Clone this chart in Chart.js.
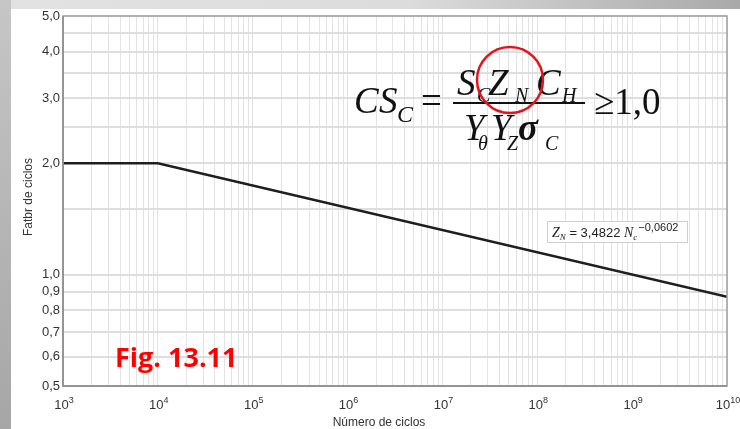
<!DOCTYPE html>
<html>
<head>
<meta charset="utf-8">
<script src="https://cdn.jsdelivr.net/npm/chart.js@4.4.1/dist/chart.umd.min.js"></script>
<style>
  html, body { margin: 0; padding: 0; background: #fff; }
  canvas { display: block; }
</style>
</head>
<body>
<canvas id="fatigue" width="740" height="429"></canvas>
<script>
/* --- Curve data: life factor vs. number of cycles --- */
const cycles = [1e3, 1e4, 1e10];
const factor = [2.0, 2.0, 0.871];

/* --- Axis ticks --- */
const yGridValues = [0.5, 0.6, 0.7, 0.8, 0.9, 1.0, 1.5, 2.0, 2.5, 3.0, 3.5, 4.0, 4.5, 5.0];
const yTickLabels = ['0,5', '0,6', '0,7', '0,8', '0,9', '1,0', '', '2,0', '', '3,0', '', '4,0', '', '5,0'];
const xExponents = [3, 4, 5, 6, 7, 8, 9, 10];

const SANS = "'Liberation Sans', Arial, sans-serif";
const SERIF = "'Liberation Serif', 'Times New Roman', serif";

// log grid: every 1..9 multiple inside each decade
const xGridValues = [];
xExponents.forEach(e => {
  if (e === xExponents[xExponents.length - 1]) { xGridValues.push(Math.pow(10, e)); return; }
  for (let m = 1; m <= 9; m++) xGridValues.push(m * Math.pow(10, e));
});

/* --- Helpers for rich text on the canvas --- */
function put(ctx, text, x, y, font, color) {
  ctx.font = font;
  ctx.fillStyle = color || '#111';
  ctx.fillText(text, x, y);
  return x + ctx.measureText(text).width;
}

/* --- Page frame, axis text, formula and notes --- */
const overlay = {
  id: 'overlay',
  beforeDraw(chart) {
    const ctx = chart.ctx;
    const W = chart.width, H = chart.height;
    ctx.save();
    ctx.fillStyle = '#fff';
    ctx.fillRect(0, 0, W, H);
    let g = ctx.createLinearGradient(0, 0, W, 0);
    g.addColorStop(0, '#e2e2e2');
    g.addColorStop(0.55, '#dcdcdc');
    g.addColorStop(1, '#a9a9a9');
    ctx.fillStyle = g;
    ctx.fillRect(0, 0, W, 9);
    g = ctx.createLinearGradient(0, 0, 0, H);
    g.addColorStop(0, '#c6c6c6');
    g.addColorStop(1, '#a6a6a6');
    ctx.fillStyle = g;
    ctx.fillRect(0, 0, 11, H);
    ctx.restore();
  },
  afterDraw(chart) {
    const ctx = chart.ctx;
    const a = chart.chartArea;
    const xs = chart.scales.x;
    ctx.save();

    // plot frame
    ctx.strokeStyle = '#a0a0a0';
    ctx.lineWidth = 1.5;
    ctx.strokeRect(a.left, a.top, a.right - a.left, a.bottom - a.top);
    ctx.strokeStyle = '#8a8a8a';
    ctx.beginPath();
    ctx.moveTo(a.left, a.top); ctx.lineTo(a.left, a.bottom); ctx.lineTo(a.right, a.bottom);
    ctx.stroke();

    // x tick labels: 10 with raised exponent
    ctx.textBaseline = 'alphabetic';
    ctx.textAlign = 'left';
    xExponents.forEach(e => {
      const px = xs.getPixelForValue(Math.pow(10, e));
      ctx.font = '13px ' + SANS;
      const w1 = ctx.measureText('10').width;
      ctx.font = '9px ' + SANS;
      const w2 = ctx.measureText(String(e)).width;
      let x = px - (w1 + w2) / 2 + 1;
      x = put(ctx, '10', x, a.bottom + 23, '13px ' + SANS, '#333');
      put(ctx, String(e), x, a.bottom + 17, '9px ' + SANS, '#333');
    });

    // axis titles
    ctx.textAlign = 'center';
    put(ctx, 'Número de ciclos', 379, 426, '12px ' + SANS, '#333');
    ctx.save();
    ctx.translate(32, 197);
    ctx.rotate(-Math.PI / 2);
    put(ctx, 'Fatbr de ciclos', 0, 0, '12px ' + SANS, '#333');
    ctx.restore();

    // fitted-curve label box
    ctx.textAlign = 'left';
    ctx.fillStyle = '#fff';
    ctx.fillRect(547, 221, 140, 21);
    ctx.strokeStyle = '#cfcfcf';
    ctx.lineWidth = 1;
    ctx.strokeRect(547.5, 221.5, 140, 21);
    let x = 552;
    x = put(ctx, 'Z', x, 237, 'italic 14px ' + SERIF, '#222');
    x = put(ctx, 'N', x, 240, 'italic 9px ' + SERIF, '#222');
    x = put(ctx, ' = 3,4822 ', x, 237, '13px ' + SANS, '#222');
    x = put(ctx, 'N', x, 237, 'italic 14px ' + SERIF, '#222');
    x = put(ctx, 'c', x, 240, 'italic 9px ' + SERIF, '#222');
    put(ctx, '\u22120,0602', x + 1, 231, '11px ' + SANS, '#222');

    // safety-factor formula
    const big = 'italic 37px ' + SERIF;
    const sub = 'italic 24px ' + SERIF;
    const small = 'italic 20px ' + SERIF;
    const up = '37px ' + SERIF;
    put(ctx, 'C', 354, 113, big, '#111');
    put(ctx, 'S', 379, 113, big, '#111');
    put(ctx, 'C', 397, 122, sub, '#111');
    put(ctx, '=', 421, 113, up, '#111');
    ctx.fillStyle = '#111';
    ctx.fillRect(453, 102, 132, 2);
    // numerator
    put(ctx, 'S', 457, 95, big, '#111');
    put(ctx, 'C', 477, 102, small, '#111');
    put(ctx, 'Z', 488, 95, big, '#111');
    put(ctx, 'N', 515, 102, small, '#111');
    put(ctx, 'C', 536, 95, big, '#111');
    put(ctx, 'H', 562, 102, small, '#111');
    // denominator
    put(ctx, 'Y', 464, 140, big, '#111');
    put(ctx, '\u03B8', 478, 150, small, '#111');
    put(ctx, 'Y', 491, 140, big, '#111');
    put(ctx, 'Z', 507, 150, small, '#111');
    put(ctx, '\u03C3', 518, 140, 'italic bold 37px ' + SERIF, '#111');
    put(ctx, 'C', 545, 150, small, '#111');
    put(ctx, '\u22651,0', 594, 114, up, '#111');

    // highlight ring
    ctx.strokeStyle = '#e3151b';
    ctx.lineWidth = 2.5;
    ctx.beginPath();
    ctx.arc(510, 80, 33, 0, Math.PI * 2);
    ctx.stroke();

    // figure tag
    put(ctx, 'Fig. 13.11', 115, 367, "bold 27px 'Open Sans', sans-serif", '#ff0000');

    ctx.restore();
  }
};

new Chart(document.getElementById('fatigue'), {
  type: 'scatter',
  data: {
    datasets: [{
      data: cycles.map((c, i) => ({ x: c, y: factor[i] })),
      showLine: true,
      borderColor: '#1e1e1e',
      borderWidth: 2.5,
      pointRadius: 0,
      tension: 0
    }]
  },
  options: {
    responsive: false,
    animation: false,
    devicePixelRatio: 1,
    layout: { padding: { top: 16, right: 13, left: 0, bottom: 0 } },
    plugins: { legend: { display: false }, tooltip: { enabled: false } },
    scales: {
      x: {
        type: 'logarithmic',
        min: 1e3,
        max: 1e10,
        afterBuildTicks: s => { s.ticks = xGridValues.map(v => ({ value: v })); },
        afterFit: s => { s.height = 43; },
        ticks: { display: false },
        grid: { color: '#e3e3e3', lineWidth: 1, drawTicks: false },
        border: { display: false }
      },
      y: {
        type: 'logarithmic',
        min: 0.5,
        max: 5,
        afterBuildTicks: s => { s.ticks = yGridValues.map(v => ({ value: v })); },
        afterFit: s => { s.width = 63; },
        ticks: {
          callback: (v, i) => yTickLabels[i],
          font: { family: 'Liberation Sans', size: 13 },
          color: '#333',
          padding: 3,
          autoSkip: false
        },
        grid: { color: '#dedede', lineWidth: 2, drawTicks: false },
        border: { display: false }
      }
    }
  },
  plugins: [overlay]
});
</script>
</body>
</html>
